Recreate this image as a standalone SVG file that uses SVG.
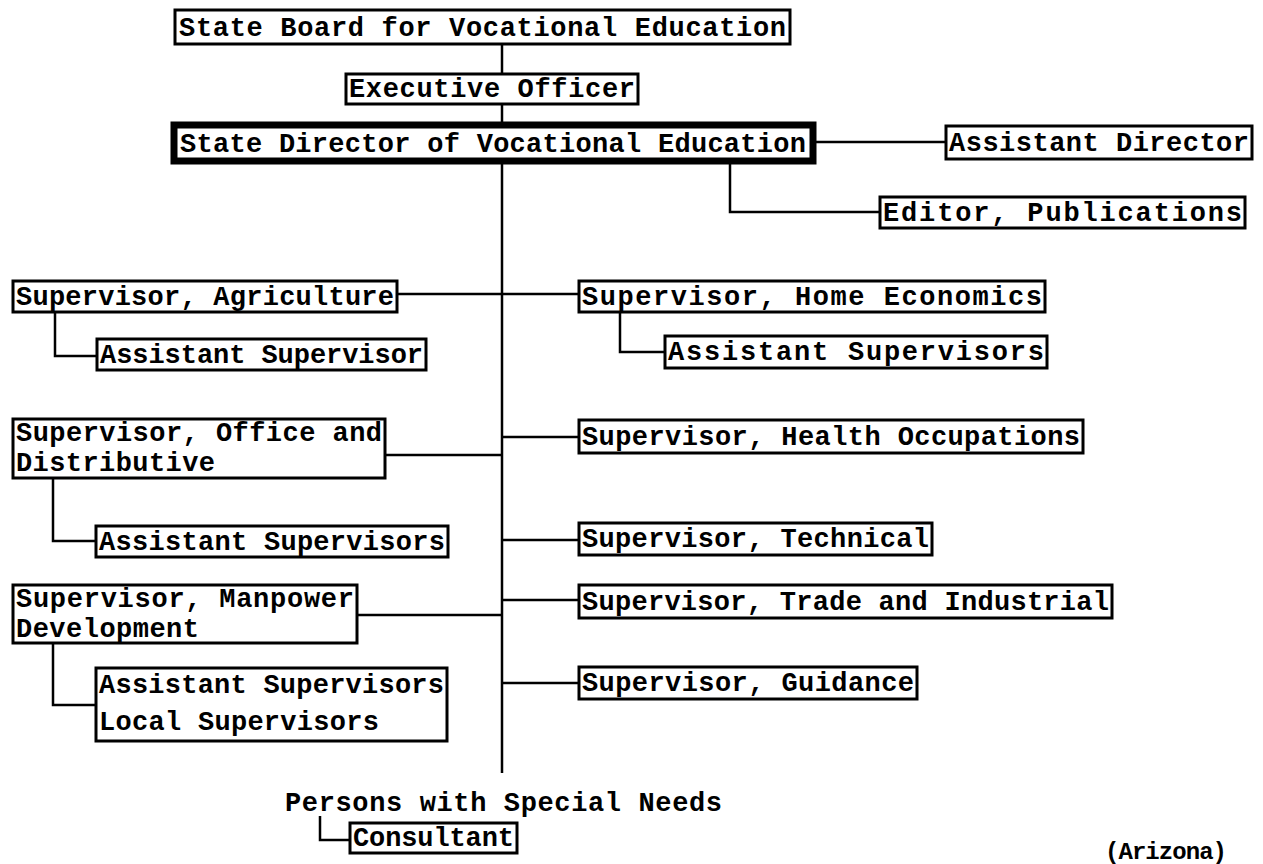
<svg xmlns="http://www.w3.org/2000/svg" width="1263" height="864" viewBox="0 0 1263 864">
  <style>
    .box { fill: #ffffff; stroke: #000000; stroke-width: 3; }
    .head { fill: #ffffff; stroke: #000000; stroke-width: 7; }
    .t { font-family: "Liberation Mono", "Courier New", monospace; font-weight: bold; font-size: 27px; fill: #000000; }
    .link { fill: none; stroke: #000000; stroke-width: 2.5; }
  </style>
  <rect width="1263" height="864" fill="#ffffff"/>

  <!-- connectors -->
  <g id="connectors" class="link">
    <path d="M502 44 V74"/>
    <path d="M502 104 V124"/>
    <path d="M502 161 V773"/>
    <path d="M813 142 H946"/>
    <path d="M730 161 V212 H880"/>
    <path d="M397 294 H579"/>
    <path d="M55 312 V356 H97"/>
    <path d="M620 312 V352 H665"/>
    <path d="M385 455 H502"/>
    <path d="M502 437 H579"/>
    <path d="M53 478 V541 H96"/>
    <path d="M502 540 H579"/>
    <path d="M357 615 H502"/>
    <path d="M502 600 H579"/>
    <path d="M53 643 V705 H96"/>
    <path d="M502 683 H579"/>
    <path d="M320 816 V840 H350"/>
  </g>

  <g id="state-board">
    <rect class="box" x="175" y="10" width="615" height="34"/>
    <text class="t" x="179" y="36" textLength="607" lengthAdjust="spacing">State Board for Vocational Education</text>
  </g>
  <g id="executive-officer">
    <rect class="box" x="346" y="74" width="292" height="30"/>
    <text class="t" x="349" y="97" textLength="286" lengthAdjust="spacing">Executive Officer</text>
  </g>
  <g id="state-director">
    <rect class="head" x="174" y="125" width="639" height="36"/>
    <text class="t" x="180" y="152" textLength="626" lengthAdjust="spacing">State Director of Vocational Education</text>
  </g>
  <g id="assistant-director">
    <rect class="box" x="946" y="126" width="306" height="33"/>
    <text class="t" x="949" y="151" textLength="300" lengthAdjust="spacing">Assistant Director</text>
  </g>
  <g id="editor-publications">
    <rect class="box" x="880" y="197" width="365" height="31"/>
    <text class="t" x="883" y="221" textLength="359" lengthAdjust="spacing">Editor, Publications</text>
  </g>

  <g id="supervisor-agriculture">
    <rect class="box" x="13" y="281" width="384" height="31"/>
    <text class="t" x="16" y="305" textLength="378" lengthAdjust="spacing">Supervisor, Agriculture</text>
  </g>
  <g id="agriculture-assistant">
    <rect class="box" x="97" y="339" width="329" height="31"/>
    <text class="t" x="100" y="363" textLength="323" lengthAdjust="spacing">Assistant Supervisor</text>
  </g>
  <g id="supervisor-home-economics">
    <rect class="box" x="579" y="281" width="466" height="31"/>
    <text class="t" x="582" y="305" textLength="460" lengthAdjust="spacing">Supervisor, Home Economics</text>
  </g>
  <g id="home-economics-assistants">
    <rect class="box" x="665" y="336" width="382" height="32"/>
    <text class="t" x="668" y="360" textLength="376" lengthAdjust="spacing">Assistant Supervisors</text>
  </g>

  <g id="supervisor-office-distributive">
    <rect class="box" x="13" y="419" width="372" height="59"/>
    <text class="t" x="16" y="441" textLength="366" lengthAdjust="spacing">Supervisor, Office and</text>
    <text class="t" x="16" y="471" textLength="199" lengthAdjust="spacing">Distributive</text>
  </g>
  <g id="office-assistants">
    <rect class="box" x="96" y="526" width="352" height="31"/>
    <text class="t" x="99" y="550" textLength="346" lengthAdjust="spacing">Assistant Supervisors</text>
  </g>
  <g id="supervisor-health">
    <rect class="box" x="579" y="420" width="504" height="33"/>
    <text class="t" x="582" y="445" textLength="498" lengthAdjust="spacing">Supervisor, Health Occupations</text>
  </g>
  <g id="supervisor-technical">
    <rect class="box" x="579" y="523" width="353" height="32"/>
    <text class="t" x="582" y="547" textLength="347" lengthAdjust="spacing">Supervisor, Technical</text>
  </g>

  <g id="supervisor-manpower">
    <rect class="box" x="13" y="585" width="344" height="58"/>
    <text class="t" x="16" y="607" textLength="338" lengthAdjust="spacing">Supervisor, Manpower</text>
    <text class="t" x="16" y="637" textLength="183" lengthAdjust="spacing">Development</text>
  </g>
  <g id="manpower-assistants">
    <rect class="box" x="96" y="668" width="351" height="73"/>
    <text class="t" x="99" y="693" textLength="345" lengthAdjust="spacing">Assistant Supervisors</text>
    <text class="t" x="99" y="730" textLength="280" lengthAdjust="spacing">Local Supervisors</text>
  </g>
  <g id="supervisor-trade">
    <rect class="box" x="579" y="585" width="533" height="33"/>
    <text class="t" x="582" y="610" textLength="527" lengthAdjust="spacing">Supervisor, Trade and Industrial</text>
  </g>
  <g id="supervisor-guidance">
    <rect class="box" x="579" y="667" width="338" height="32"/>
    <text class="t" x="582" y="691" textLength="332" lengthAdjust="spacing">Supervisor, Guidance</text>
  </g>

  <g id="special-needs">
    <text class="t" x="285" y="811" textLength="437" lengthAdjust="spacing">Persons with Special Needs</text>
  </g>
  <g id="consultant">
    <rect class="box" x="350" y="823" width="167" height="30"/>
    <text class="t" x="353" y="846" textLength="161" lengthAdjust="spacing">Consultant</text>
  </g>

  <text class="t" x="1105" y="859" textLength="122" lengthAdjust="spacing" style="font-size:24px">(Arizona)</text>
</svg>
